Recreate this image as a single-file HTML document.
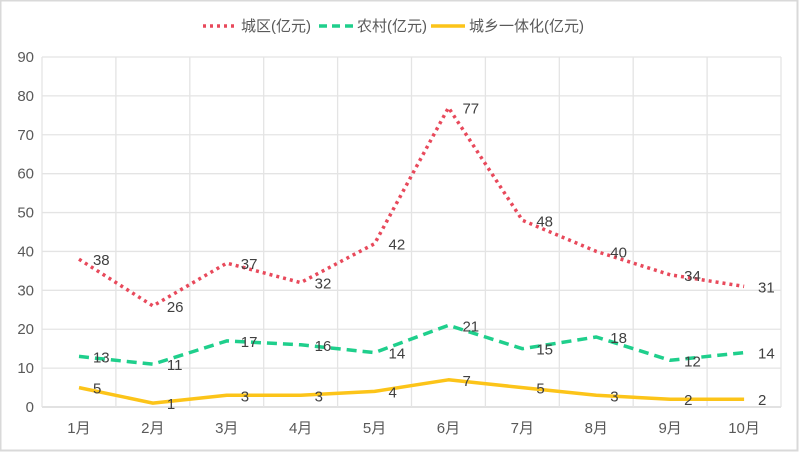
<!DOCTYPE html>
<html><head><meta charset="utf-8"><style>
html,body{margin:0;padding:0;background:#fff;}
svg{display:block;font-family:"Liberation Sans","Noto Sans CJK SC",sans-serif;}
</style></head><body>
<svg width="800" height="463" viewBox="0 0 800 463">
<rect x="0" y="0" width="800" height="463" fill="#fff"/>
<rect x="0.5" y="0.5" width="797" height="450" fill="#fff" stroke="#d9d9d9" stroke-width="2"/>
<g id="grid"></g>
<g id="axes"></g>
<g id="series"></g>
<g id="legend"></g>
</svg>
<script>
const categories=["1月","2月","3月","4月","5月","6月","7月","8月","9月","10月"];
const urban=[38,26,37,32,42,77,48,40,34,31];
const rural=[13,11,17,16,14,21,15,18,12,14];
const integrated=[5,1,3,3,4,7,5,3,2,2];
const yTicks=[0,10,20,30,40,50,60,70,80,90];
const seriesNames=["城区(亿元)","农村(亿元)","城乡一体化(亿元)"];
const L=42,R=781,T=57,B=407,YMAX=90;
const NS="http://www.w3.org/2000/svg";
const step=(R-L)/categories.length;
function xPos(i){return L+step*(i+0.5);}
function yPos(v){return B-(v/YMAX)*(B-T);}
function mk(tag,attrs,parent,text){const e=document.createElementNS(NS,tag);for(const k in attrs)e.setAttribute(k,attrs[k]);if(text!==undefined)e.textContent=text;parent.appendChild(e);return e;}
const grid=document.getElementById('grid'),axes=document.getElementById('axes'),ser=document.getElementById('series'),leg=document.getElementById('legend');
yTicks.forEach(t=>{
 const y=yPos(t);
 const l=mk('line',{x1:L,x2:R,y1:y,y2:y,stroke:t===0?'#d0d0d0':'#e4e4e4','stroke-width':1.3},grid);
 
 
 const tx=mk('text',{x:34,y:y+5,'text-anchor':'end','font-size':15,fill:'#595959'},axes,String(t));
 
 
});
for(let i=0;i<=categories.length;i++){
 const x=L+step*i;
 const l=mk('line',{x1:x,x2:x,y1:T,y2:B,stroke:'#e4e4e4','stroke-width':1.3},grid);
 
 
}
categories.forEach((c,i)=>{
 const tx=mk('text',{x:xPos(i),y:433,'text-anchor':'middle','font-size':15,fill:'#595959'},axes,c);
 
 
});
const styles=[
 {data:urban,color:'#e8495b',dash:'3,4',w:3.5,name:'urban-line'},
 {data:rural,color:'#1fcf8c',dash:'10,6',w:3.5,name:'rural-line'},
 {data:integrated,color:'#fcc419',dash:'',w:3.5,name:'integrated-line'}
];
styles.forEach(s=>{
 const pts=s.data.map((v,i)=>xPos(i).toFixed(1)+','+yPos(v).toFixed(1)).join(' ');
 const a={points:pts,fill:'none',stroke:s.color,'stroke-width':s.w,'stroke-linejoin':'round'};
 if(s.dash)a['stroke-dasharray']=s.dash;
 const p=mk('polyline',a,ser);
 
 
 s.data.forEach((v,i)=>{
  const tx=mk('text',{x:xPos(i)+14,y:yPos(v)+6,'font-size':15,fill:'#404040'},ser,String(v));
  
  
 });
});
// legend
const lx=[203,319,431];
seriesNames.forEach((n,i)=>{
 const s=styles[i];
 const a={x1:lx[i],x2:lx[i]+34,y1:26,y2:26,stroke:s.color,'stroke-width':3.5};
 if(s.dash)a['stroke-dasharray']=i===1?'8,5':'3,4';
 const g=mk('g',{},leg);
 
 
 mk('line',a,g);
 mk('text',{x:lx[i]+38,y:31,'font-size':15,fill:'#595959'},g,n);
});
</script>
</body></html>
